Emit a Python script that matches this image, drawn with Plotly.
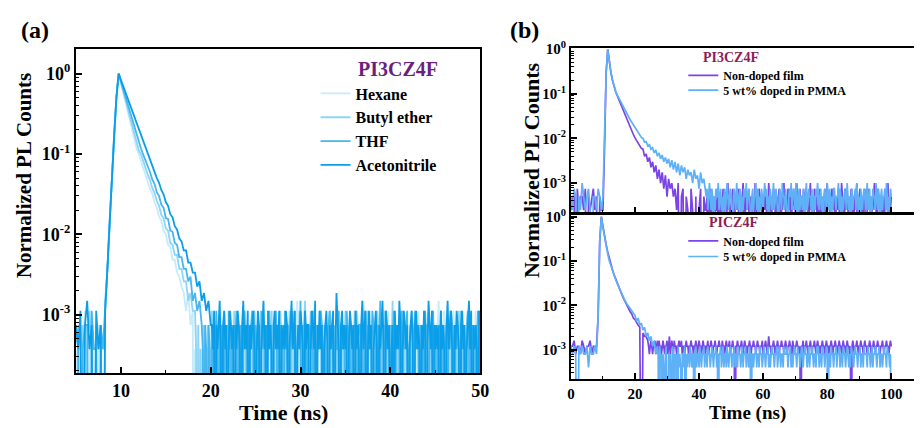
import numpy as np
import plotly.graph_objects as go

# ---------------- Panel (a): PI3CZ4F in solvents
# main part: 0.25 ns channels from 5 ns; tail part: 0.125 ns channels
a_t0, a_dt_main, a_dt_tail = 5.0, 0.25, 0.125
hexane_main = ([1,0,2,1,3,0,1,2,1,0,2,1,1] + [3,11,42,145,480,1370,2700] +
    [2070,1575,1212,920,710,538,416,315,266,217,182,147,125,99,86,67,58,45,40,30,
     27,20,19,13,13,9,8,6,5,3,5,2,3])
hexane_tail = [
    0,1,0,2,0,1,1,0,2,0,1,0,2,1,0,1,3,0,1,2, 1,0,2,1,3,0,1,2,0,1,2,1,0,3,1,2,0,1,2,1,
    2,1,0,1,2,3,0,2,1,1,0,2,3,1,2,0,1,2,1,0, 1,2,3,0,1,2,1,0,2,1,3,1,0,2,2,1,0,3,1,2,
    0,2,1,2,1,3,0,1,2,0,2,1,4,1,0,2,1,2,0,3, 1,0,2,1,2,0,3,1,2,1,0,2,1,3,2,0,1,2,1,0,
    2,3,1,0,2,1,2,0,1,3,1,2,0,2,1,1,3,0,2,1, 0,1,2,3,1,0,2,1,2,0,1,4,2,1,0,2,1,3,1,2,
    2,0,1,2,1,3,0,2,1,0,2,1,2,3,1,0,1,2,0,1, 1,2,0,1,3,2,1,0,2,1,2,0,1,2,3,1,2,0,1,2,
    3,1,2,0,1,2,1,0,2,3,1,2,1,0,2,1,0,2,4,1, 0,2,1,3,1,0,2,1,2,1,0,3,2,1,2,0,1,2,1,0,
    2,1,0,2,3,1,2,0,1,2,1,3,0,1,2,1]
butyl_main = ([0,2,1,2,0,1,3,1,0,2,1,2,0] + [4,10,41,142,475,1360,2700] +
    [2112,1655,1290,1016,790,625,483,384,296,265,215,184,148,127,101,88,70,61,47,43,
     32,30,21,20,15,15,10,10,7,7,4,5,3,3])
butyl_tail = [
    1,0,2,0,1,0,1,2,0,1,0,2,1,0,3,1,0,1,2,0, 2,1,0,2,1,3,1,0,2,1,1,2,0,1,3,2,1,0,2,1,
    0,2,1,3,1,0,2,1,2,0,1,2,3,1,0,2,1,1,2,0, 3,1,2,0,1,2,1,3,0,2,1,0,2,1,2,3,1,0,1,2,
    1,2,0,2,3,1,0,2,1,2,0,1,3,2,1,0,2,4,1,0, 2,1,3,0,1,2,1,0,2,1,3,2,0,1,2,1,0,2,1,3,
    0,2,1,2,1,0,3,1,2,0,2,1,1,3,0,2,1,2,0,1, 2,0,1,3,2,1,0,2,1,2,1,0,2,3,1,2,0,1,2,1,
    1,3,2,0,1,2,1,0,3,1,2,0,1,2,1,4,0,2,1,2, 0,1,2,1,3,0,2,1,2,0,1,2,3,1,0,2,1,2,1,0,
    2,1,0,3,1,2,2,0,1,2,1,3,0,2,1,0,2,1,3,1, 1,2,1,0,2,1,3,2,0,1,2,1,0,2,3,1,2,0,1,2,
    0,2,1,3,1,2,0,1,2,1,0,2,3,1]
thf_main = ([2,1,0,1,2,2,0,3,1,1,0,2,1] + [3,10,40,140,472,1355,2700] +
    [2170,1752,1404,1136,909,737,588,478,379,311,262,225,184,160,129,114,90,81,63,58,
     43,42,30,29,21,20,14,14,10,10,7,8,4,5,3,4,2])
thf_tail = [
    1,0,2,1,0,2,1,0,1,2,0,1,3,1,0,2,1,2,0,1, 2,1,0,3,1,2,0,1,2,1,3,0,2,1,2,0,1,3,1,2,
    0,2,1,2,3,1,0,2,1,1,2,0,3,1,2,1,0,2,1,3, 1,2,0,1,2,3,1,0,2,1,2,1,0,3,2,1,2,0,1,2,
    3,1,2,0,1,2,1,4,0,2,1,3,1,0,2,1,2,1,3,0, 2,0,1,2,1,3,2,0,1,2,0,1,2,3,1,2,1,0,2,1,
    1,3,0,2,1,2,1,0,3,2,1,2,0,1,2,1,3,0,1,2, 2,1,2,0,3,1,0,2,1,2,1,3,2,0,1,2,0,1,4,1,
    0,2,1,3,1,2,1,0,2,1,3,0,2,1,2,1,0,3,1,2, 1,2,3,0,1,2,0,1,2,3,1,2,1,0,2,1,2,0,3,1,
    2,0,1,2,1,3,1,2,0,1,2,1,3,0,2,1,1,2,0,2, 1,3,2,1,0,2,1,2,1,0,3,1,2,0,1,2,3,1,0,1,
    2,1,0,2,1,3,0,1]
acn_main = ([2,1,3,0,2,4,1,2,0,3,1,2,0] + [3,10,40,140,470,1350,2700] +
    [2260,1890,1590,1335,1110,935,780,652,550,462,383,325,268,230,190,165,135,118,96,85,
     68,61,48,44,34,31,24,22,17,17,12,12,9,9,6,7,4,5,3,4,2])
acn_tail = [
    2,1,3,0,2,1,2,4,1,0,2,3,1,2,0,1,3,2,1,2, 0,2,1,3,2,1,0,2,4,1,2,1,3,0,2,1,2,3,1,0,
    1,3,2,0,1,2,4,1,2,0,3,1,2,1,0,2,3,1,2,1, 3,0,2,1,2,1,3,2,0,1,2,4,1,2,3,0,1,2,1,3,
    2,1,0,3,1,2,2,0,1,3,2,1,4,0,2,1,3,1,2,0, 1,2,3,1,0,2,1,2,3,0,1,5,2,1,0,2,3,1,2,1,
    2,0,1,3,2,1,2,0,3,1,2,1,0,2,4,1,2,3,0,1, 3,1,2,0,1,2,3,1,0,2,1,2,4,1,0,3,2,1,2,0,
    1,2,0,3,1,2,1,4,2,0,1,3,2,1,2,0,1,2,3,1, 0,2,3,1,2,1,0,2,1,3,2,0,1,4,2,1,3,0,2,1,
    2,1,2,0,3,1,2,1,0,2,4,1,2,3,1,0,2,1,3,2, 1,0,2,3,1,2,0,1,2,4,1,3,0,2,1,2,1,0,3,2]
a_names = ["Hexane", "Butyl ether", "THF", "Acetonitrile"]
a_colors = ["#c6ebfb", "#8dd4f6", "#45b6ee", "#0a9ee8"]

# ---------------- Panel (b): films; main part 0.5 ns channels from 0 ns, tail 0.25 ns channels
b_t0, b_dt_main, b_dt_tail = 0.0, 0.5, 0.25
top_non_main = ([1,2,2,0,3,1,2,2,1,3,0,2,1,2,3,1,2,0,2,1,1] + [25,1150,4000] +
    [2005,1180,780,565,438,356,290,235,191,156,126,105,88,71,59,49,41,36,31,27,24] +
    [23,16,18,12,15,9,12,7,10,5,8,4,7,3,6,2,5,3,4,2,3,1,4,0,2,3,0,2,1,0,
     3,1,0,2,0,1,3,0,2,1])
top_non_tail = [
    1,2,0,2,1,3,0,1,2,1,0,2,1,1,3,0,2,1,2,0, 1,3,1,2,0,1,2,4,1,2,0,1,2,3,1,0,2,1,2,1,
    3,1,0,2,1,2,4,1,0,2,1,2,1,3,0,2,1,2,1,0, 2,4,1,2,0,1,3,2,1,2,0,2,1,3,1,2,0,1,4,2,
    1,0,2,1,3,2,1,0,2,1,2,3,1,0,2,1,2,4,1,2, 0,1,3,2,1,2,0,1,2,3,1,2,0,4,1,2,1,3,0,2,
    2,1,0,2,3,1,2,1,0,2,4,1,2,0,1,3,2,1,2,0, 1,2,3,0,2,1,2,1,3,0,2,4,1,2,1,0,2,3,1,2,
    2,0,1,2,1,3,2,0,1,4,2,1,0,2,3,1,2,1,0,2, 1,3,2,1,0,2,1,2,4,0,1,2,3,1,2,0,2,1,3,1,
    0,2,1,3,2,1,0,2,1,2,4,1,2,0,3,1,2,1,0,2, 1,2,0,3,1,2,1,4,0,2,1,2]
top_dop_main = ([2,1,3,2,0,2,1,4,2,1,2,3,1,0,2,2,1,3,2,1,2] + [30,1200,4000] +
    [2005,1208,798,578,449,373,318,264,220,187,159,139,121,105,92,80,70,60,54,47,42] +
    [40,33,34,27,29,23,25,19,22,16,19,14,17,12,15,11,14,9,13,8,12,7,11,6,10,7,9,5,8,6,
     7,4,8,5,6,3,7,4,5,3])
top_dop_tail = [
    2,3,1,2,4,2,1,3,2,0,2,1,3,2,2,4,1,2,3,1, 2,0,2,3,1,2,4,2,1,2,3,2,1,0,2,3,2,1,4,2,
    1,2,3,2,0,2,1,3,2,2,4,1,2,3,2,1,0,2,3,1, 2,2,4,1,3,2,0,2,1,3,2,1,2,4,2,3,1,2,0,2,
    3,2,1,2,4,1,2,3,2,1,0,2,3,2,1,4,2,2,1,3, 2,1,0,2,3,2,4,1,2,3,2,1,4,2,0,2,3,1,2,2,
    1,3,2,0,2,4,1,2,3,2,2,1,3,0,2,2,1,3,2,4, 2,1,2,3,1,2,0,2,3,2,1,4,2,1,3,2,0,2,1,3,
    3,2,1,2,2,4,1,3,2,0,2,1,2,3,2,1,4,2,1,2, 0,2,3,1,2,2,3,1,4,2,1,2,0,3,2,1,2,3,2,1,
    2,4,1,2,3,0,2,1,3,2,2,1,4,2,1,3,2,0,2,3, 1,2,2,3,1,4,2,0,2,1,3,2]
bot_non_main = ([3,3,4,2,3,3,2,4,3,2,3,3,4,2,3,3,3] + [14,680,2500] +
    [1472,908,586,396,281,208,158,122,97,77,63,51,42,35,29,25,21,18,16,13,
     12,10,9,8,0,6,5,5,4])
bot_non_tail = [
    3,2,3,4,3,2,3,3,4,2,3,4,2,4,3,3,2,3,4,3, 2,3,3,4,2,3,5,2,3,4,3,2,4,3,3,2,3,3,4,3,
    3,4,2,3,3,2,3,4,3,3,2,3,3,4,3,3,2,3,3,4, 3,2,3,4,3,3,2,3,4,3,3,2,3,3,4,2,3,3,4,3,
    2,3,3,4,3,2,3,3,4,3,3,2,4,3,3,2,3,4,3,3, 3,4,2,3,3,4,3,2,0,3,3,4,3,2,3,3,4,3,2,3,
    4,3,3,2,3,3,4,3,2,3,3,4,3,3,2,3,4,3,3,2, 3,3,4,2,3,3,4,3,2,3,5,3,3,2,3,3,4,3,2,3,
    3,4,3,2,3,3,4,3,3,2,3,4,3,2,3,3,4,3,3,2, 4,3,2,3,3,4,3,3,2,3,0,3,3,4,2,3,3,4,3,2,
    3,3,4,3,2,3,3,4,3,2,3,4,3,3,2,3,3,4,3,3, 2,3,4,3,3,2,3,3,4,3,2,3,3,4,3,3,2,3,4,3,
    3,2,3,4,3,3,2,3,4,3,3,2,3,0,3,4,3,2,3,3, 4,3,2,3,3,4,3,3,2,3,4,3,3,2,3,3,4,3,2,3,
    3,4,3,2,3,3,4,3,3,2,3,3,4,3,2,3,3,4,3,3, 2,3,4,3]
bot_dop_main = ([3,2,3,2,0,3,2,3,2,2,3,1,3,2,2,3,2] + [15,700,2500] +
    [1406,847,547,361,250,190,147,117,95,77,63,52,43,37,31,27,24,21,18,16,
     15,11,13,9,10,7,8,5,6,4,5,3,4,2,3])
bot_dop_tail = [
    2,0,3,1,2,0,2,1,0,2,3,1,0,2,1,2,0,1,3,2, 0,2,1,2,0,3,1,2,1,0,2,2,1,3,0,2,1,2,2,1,
    3,2,1,2,2,0,2,3,1,2,2,1,3,2,1,2,2,3,1,2, 2,1,3,2,2,1,2,3,2,1,2,2,3,1,2,0,2,2,3,1,
    2,3,1,2,2,1,3,2,1,2,3,2,1,2,2,3,1,2,2,1, 3,2,2,1,2,3,1,2,2,3,1,2,2,1,3,2,0,2,2,1,
    2,2,3,1,2,2,1,3,2,2,1,2,3,2,1,2,2,3,1,2, 1,2,3,2,2,1,2,2,3,1,2,3,2,1,2,2,1,3,2,2,
    2,3,1,2,2,3,1,2,1,2,3,2,2,1,3,2,2,1,2,3, 2,1,2,3,2,2,1,2,3,1,2,2,3,2,1,2,2,1,3,2,
    3,1,2,2,1,3,2,2,1,2,3,2,0,2,2,1,3,2,2,1, 2,2,3,1,2,2,3,1,2,2,1,3,2,2,1,2,3,2,1,2,
    1,3,2,2,1,2,3,2,2,1,2,2,3,1,2,2,1,3,2,2, 2,1,3,2,2,1,2,3,1,2,2,3,2,1,2,2,3,1,2,2,
    1,2,3,2,2,1,3,2,2,1,2,0]
b_names = ["Non-doped film", "5 wt% doped in PMMA"]
b_colors = ["#7b44e6", "#5eb0f7"]

FONT = "Liberation Serif"


def series(main, tail, t0, dt_main, dt_tail, tmax):
    c = np.asarray(list(main) + list(tail), dtype=float)
    t_main = t0 + dt_main * np.arange(len(main))
    t_tail = t_main[-1] + dt_tail * np.arange(1, len(tail) + 1)
    t = np.concatenate([t_main, t_tail])
    y = c / c.max()
    y[y <= 0] = 1e-7  # zero-count channels fall below the axis
    keep = t <= tmax + 1e-9
    return t[keep], y[keep]


fig = go.Figure()

for name, m, tl, col in zip(a_names,
                            [hexane_main, butyl_main, thf_main, acn_main],
                            [hexane_tail, butyl_tail, thf_tail, acn_tail], a_colors):
    t, y = series(m, tl, a_t0, a_dt_main, a_dt_tail, 50)
    fig.add_trace(go.Scatter(x=t, y=y, mode="lines", name=name, line=dict(color=col, width=1.8),
                             xaxis="x", yaxis="y", legend="legend"))

b_legends_top = ["legend2", "legend3"]
b_legends_bot = ["legend4", "legend5"]
for name, m, tl, col, lg in zip(b_names, [top_non_main, top_dop_main], [top_non_tail, top_dop_tail],
                                b_colors, b_legends_top):
    t, y = series(m, tl, b_t0, b_dt_main, b_dt_tail, 100)
    fig.add_trace(go.Scatter(x=t, y=y, mode="lines", name=name, line=dict(color=col, width=1.7),
                             xaxis="x2", yaxis="y2", legend=lg))
for name, m, tl, col, lg in zip(b_names, [bot_non_main, bot_dop_main], [bot_non_tail, bot_dop_tail],
                                b_colors, b_legends_bot):
    t, y = series(m, tl, b_t0, b_dt_main, b_dt_tail, 100)
    fig.add_trace(go.Scatter(x=t, y=y, mode="lines", name=name, line=dict(color=col, width=1.7),
                             xaxis="x3", yaxis="y3", legend=lg))

W, H = 923, 428
px = lambda v: v / W
py = lambda v: 1 - v / H

dec_vals = [1, 0.1, 0.01, 0.001]
dec_text = ["10<sup>0</sup>", "10<sup>-1</sup>", "10<sup>-2</sup>", "10<sup>-3</sup>"]
minor_vals = [k * 10.0 ** e for e in range(-4, 1) for k in range(2, 10)]


def yax(domain, rng, size, mirror):
    return dict(type="log", domain=domain, range=rng, tickvals=dec_vals, ticktext=dec_text,
                ticks="inside", ticklen=6, tickwidth=1.5, tickcolor="black",
                minor=dict(tickvals=minor_vals, ticks="inside", ticklen=3, tickcolor="black", tickwidth=1),
                showline=True, linecolor="black", linewidth=2, mirror=mirror,
                showgrid=False, zeroline=False,
                tickfont=dict(family=FONT, size=size, color="black", weight="bold"))


def xax(domain, rng, tickvals, minor_vals_x, size, labels, anchor):
    return dict(domain=domain, range=rng, tickvals=tickvals, ticks="inside", ticklen=6, tickwidth=1.5,
                tickcolor="black", showticklabels=labels,
                minor=dict(tickvals=minor_vals_x, ticks="inside", ticklen=3, tickcolor="black", tickwidth=1),
                showline=True, linecolor="black", linewidth=2, mirror=True,
                showgrid=False, zeroline=False, anchor=anchor,
                tickfont=dict(family=FONT, size=size, color="black", weight="bold"))


def small_legend(top):
    return dict(x=px(689), y=py(top), xanchor="left", yanchor="top", bgcolor="rgba(0,0,0,0)",
                font=dict(family=FONT, size=12, color="black", weight="bold"))


fig.update_layout(
    width=W, height=H, margin=dict(l=0, r=0, t=0, b=0),
    paper_bgcolor="white", plot_bgcolor="white",
    font=dict(family=FONT, color="black"),
    xaxis=xax([px(73), px(483)], [5, 50], [10, 20, 30, 40, 50], [15, 25, 35, 45], 18, True, "y"),
    yaxis=yax([1 - 372 / H, 1 - 41 / H], [-3.73, 0.305], 18, True),
    xaxis2=xax([px(575), 1.0], [0, 107.1], [0, 20, 40, 60, 80, 100], [10, 30, 50, 70, 90], 15, False, "y2"),
    yaxis2=dict(yax([1 - 208 / H, 1 - 40 / H], [-3.66, 0.02], 15, False), anchor="x2"),
    xaxis3=xax([px(575), 1.0], [0, 107.1], [0, 20, 40, 60, 80, 100], [10, 30, 50, 70, 90], 15, True, "y3"),
    yaxis3=dict(yax([1 - 378 / H, 1 - 209 / H], [-3.66, 0.07], 15, False), anchor="x3"),
    legend=dict(x=px(316), y=py(69), xanchor="left", yanchor="top", bgcolor="rgba(0,0,0,0)",
                font=dict(family=FONT, size=16, color="black", weight="bold")),
    legend2=small_legend(53), legend3=small_legend(68),
    legend4=small_legend(222), legend5=small_legend(238),
    showlegend=True,
)

ann = [
    dict(text="(a)", x=px(31), y=py(21), size=24, color="black"),
    dict(text="(b)", x=px(528), y=py(21), size=24, color="black"),
    dict(text="PI3CZ4F", x=px(400), y=py(61), size=20, color="#6b1f80"),
    dict(text="PI3CZ4F", x=px(737), y=py(50), size=14, color="#8b1e55"),
    dict(text="PICZ4F", x=px(740), y=py(218), size=14, color="#8b1e55"),
    dict(text="Time (ns)", x=px(283), y=py(412), size=22, color="black"),
    dict(text="Time (ns)", x=px(754), y=py(413), size=19, color="black"),
]
for a in ann:
    fig.add_annotation(text=a["text"], x=a["x"], y=a["y"], xref="paper", yref="paper",
                       showarrow=False, xanchor="center", yanchor="middle",
                       font=dict(family=FONT, size=a["size"], color=a["color"], weight="bold"))
for txt, x, y, s in [("Normalized PL Counts", 21, 170, 21), ("Normalized PL Counts", 535, 164, 22)]:
    fig.add_annotation(text=txt, x=px(x), y=py(y), xref="paper", yref="paper", showarrow=False,
                       textangle=-90, xanchor="center", yanchor="middle",
                       font=dict(family=FONT, size=s, color="black", weight="bold"))

fig.write_html("out.html")
